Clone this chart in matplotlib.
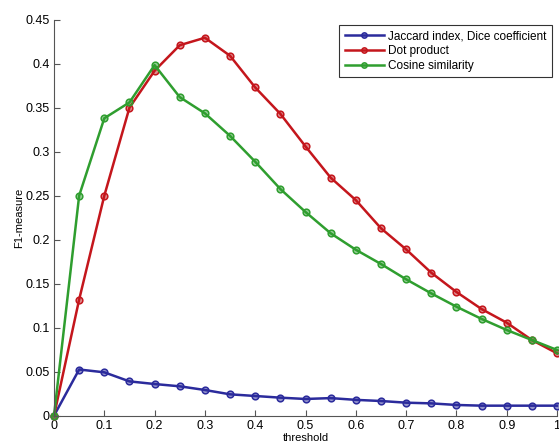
import numpy as np
import matplotlib
matplotlib.use("Agg")
import matplotlib.pyplot as plt

threshold = [0, 0.05, 0.1, 0.15, 0.2, 0.25, 0.3, 0.35, 0.4, 0.45, 0.5,
             0.55, 0.6, 0.65, 0.7, 0.75, 0.8, 0.85, 0.9, 0.95, 1.0]
jaccard = [0, 0.0525, 0.0493, 0.039, 0.036, 0.0334, 0.0292, 0.0243, 0.0224, 0.0205, 0.019,
           0.020, 0.018, 0.0167, 0.0148, 0.014, 0.0122, 0.0114, 0.0114, 0.0114, 0.0114]
dot_product = [0, 0.132, 0.25, 0.35, 0.392, 0.421, 0.4295, 0.409, 0.373, 0.343, 0.306,
               0.2705, 0.245, 0.213, 0.189, 0.1625, 0.1406, 0.1212, 0.1057, 0.086, 0.0709]
cosine = [0, 0.25, 0.338, 0.356, 0.3984, 0.362, 0.3436, 0.318, 0.2886, 0.2576, 0.2315,
          0.2073, 0.1886, 0.1724, 0.155, 0.139, 0.1239, 0.110, 0.0974, 0.086, 0.0747]
labels = ["Jaccard index, Dice coefficient", "Dot product", "Cosine similarity"]
colors = ["#2b2b9c", "#c4161c", "#2f9e2f"]

plt.rcParams['font.family'] = ['Liberation Sans', 'DejaVu Sans']
fig = plt.figure(figsize=(5.59, 4.43), dpi=100)
ax = fig.add_axes([54 / 559, 1 - 415.7 / 443, 503 / 559, 396 / 443])

for y, lab, c in zip([jaccard, dot_product, cosine], labels, colors):
    ax.plot(threshold, y, color=c, lw=1.8, marker='o', ms=4.8, mew=1.1,
            mfc=matplotlib.colors.to_rgba(c, 0.5), mec=c, label=lab, clip_on=False)

ax.set_xlim(0, 1)
ax.set_ylim(0, 0.45)
ax.set_xticks(np.arange(0, 1.01, 0.1))
ax.set_xticklabels(["0", "0.1", "0.2", "0.3", "0.4", "0.5", "0.6", "0.7", "0.8", "0.9", "1"])
ax.set_yticks(np.arange(0, 0.451, 0.05))
ax.set_yticklabels(["0", "0.05", "0.1", "0.15", "0.2", "0.25", "0.3", "0.35", "0.4", "0.45"])
ax.tick_params(direction='in', length=4, labelsize=9, color='#555555', pad=3)
for s in ['top', 'right']:
    ax.spines[s].set_visible(False)
for s in ['left', 'bottom']:
    ax.spines[s].set_color('#555555')
ax.set_xlabel("threshold", fontsize=8, labelpad=1)
ax.set_ylabel("F1-measure", fontsize=8, labelpad=1)

leg = ax.legend(loc='upper right', bbox_to_anchor=(552 / 559, 1 - 24.7 / 443),
                bbox_transform=fig.transFigure, fontsize=8.5, frameon=True, fancybox=False,
                borderpad=0.45, labelspacing=0.25, handlelength=3.3, handletextpad=0.4,
                markerscale=0.8, borderaxespad=0)
leg.get_frame().set_edgecolor('black')
leg.get_frame().set_linewidth(0.8)

fig.savefig("out.png", dpi=100)
